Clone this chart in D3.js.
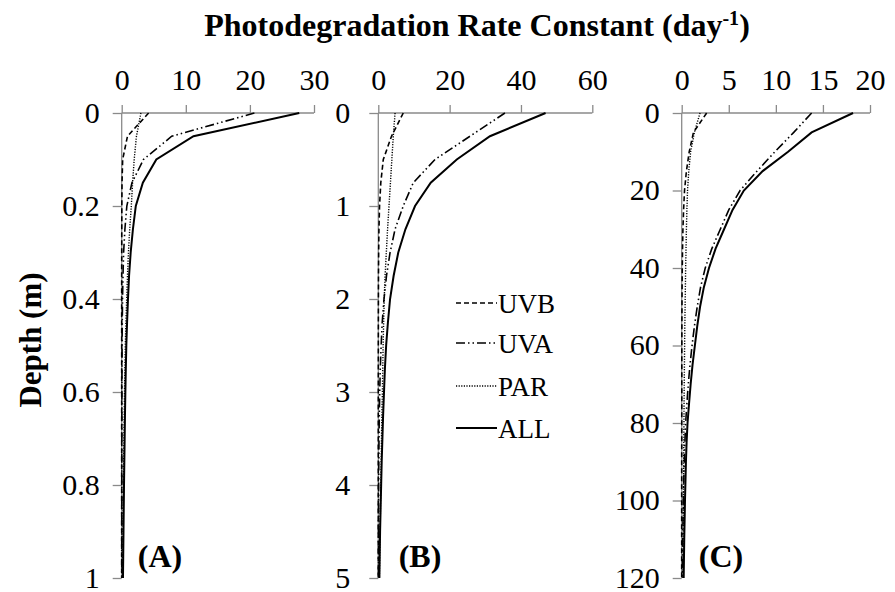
<!DOCTYPE html>
<html>
<head>
<meta charset="utf-8">
<script src="https://cdn.jsdelivr.net/npm/d3@7"></script>
<style>
  html, body { margin: 0; padding: 0; background: #fff; }
  svg { display: block; }
  text { font-family: "Liberation Serif", "Times New Roman", serif; fill: #000; }
</style>
</head>
<body>
<svg id="chart" width="895" height="592"></svg>
<script>
// ---------------- DATA ----------------
const seriesNames = ["UVB", "UVA", "PAR", "ALL"];
const panelLabels = ["(A)", "(B)", "(C)"];

// Panel A: depth 0..1 m
const depthA = [0,0.05,0.1,0.15,0.2,0.25,0.3,0.35,0.4,0.45,0.5,0.55,0.6,0.65,0.7,0.75,0.8,0.85,0.9,0.95,1.0];
const uvbA = [4.2,0.9,0.15,0.05,0.02,0.01,0.005,0,0,0,0,0,0,0,0,0,0,0,0,0,0];
const uvaA = [20.7,7.8,3.4,1.6,0.8,0.5,0.3,0.2,0.13,0.09,0.06,0.04,0.03,0.02,0.015,0.01,0.01,0.01,0.005,0.005,0.005];
const parA = [3.0,2.3,1.95,1.7,1.5,1.25,1.05,0.9,0.78,0.66,0.56,0.5,0.44,0.39,0.35,0.31,0.27,0.24,0.21,0.18,0.15];
const allA = [27.7,11.2,5.4,3.3,2.2,1.75,1.4,1.15,0.98,0.84,0.72,0.64,0.57,0.51,0.46,0.41,0.36,0.32,0.28,0.24,0.2];

// Panel B: depth 0..5 m
const depthB = [0,0.25,0.5,0.75,1,1.25,1.5,1.75,2,2.25,2.5,2.75,3,3.25,3.5,3.75,4,4.25,4.5,4.75,5];
const uvbB = [7.0,3.7,1.4,0.7,0.35,0.18,0.1,0.05,0.03,0.02,0.01,0.01,0,0,0,0,0,0,0,0,0];
const uvaB = [35.5,25.7,15.9,9.8,7.0,4.7,3.3,2.3,1.6,1.1,0.8,0.55,0.4,0.28,0.2,0.14,0.1,0.07,0.05,0.04,0.03];
const parB = [4.7,4.2,3.8,3.4,3.0,2.6,2.25,1.9,1.65,1.5,1.35,1.25,1.15,1.0,0.9,0.8,0.7,0.6,0.5,0.4,0.3];
const allB = [46.9,31.3,22.0,14.7,10.3,7.6,5.6,4.3,3.3,2.7,2.2,1.85,1.6,1.35,1.15,0.95,0.8,0.65,0.5,0.4,0.3];

// Panel C: depth 0..120 m
const depthC = [0,5,10,15,20,25,30,35,40,45,50,55,60,65,70,75,80,85,90,95,100,105,110,115,120];
const uvbC = [2.65,1.25,0.8,0.5,0.3,0.2,0.13,0.09,0.06,0.04,0.03,0.02,0.015,0.01,0.01,0.01,0.005,0.005,0,0,0,0,0,0,0];
const uvaC = [13.8,11.9,9.9,8.0,6.2,5.0,4.1,3.2,2.5,2.0,1.65,1.35,1.1,0.88,0.7,0.55,0.42,0.34,0.27,0.22,0.17,0.14,0.11,0.09,0.07];
const parC = [1.95,1.35,0.95,0.75,0.62,0.55,0.5,0.46,0.42,0.39,0.36,0.33,0.31,0.29,0.27,0.25,0.24,0.22,0.21,0.2,0.18,0.17,0.16,0.15,0.13];
const allC = [18.2,13.8,11.3,8.6,6.6,5.4,4.5,3.6,2.9,2.35,1.95,1.65,1.4,1.15,0.95,0.78,0.62,0.52,0.45,0.4,0.35,0.31,0.27,0.24,0.21];

const xTicksA = [0,10,20,30], yTicksA = [0,0.2,0.4,0.6,0.8,1];
const xTicksB = [0,20,40,60], yTicksB = [0,1,2,3,4,5];
const xTicksC = [0,5,10,15,20], yTicksC = [0,20,40,60,80,100,120];

// ---------------- LAYOUT / STYLE ----------------
const plotTop = 113, plotBottom = 578;
const panels = [
  { depth: depthA, series: [uvbA, uvaA, parA, allA], xDomain: [0,30], yDomain: [0,1], xRange: [121.7, 314], xTicks: xTicksA, yTicks: yTicksA, labelX: 160, yPad: 13 },
  { depth: depthB, series: [uvbB, uvaB, parB, allB], xDomain: [0,60], yDomain: [0,5], xRange: [378.3, 592.3], xTicks: xTicksB, yTicks: yTicksB, labelX: 420, yPad: 19 },
  { depth: depthC, series: [uvbC, uvaC, parC, allC], xDomain: [0,20], yDomain: [0,120], xRange: [681.7, 870], xTicks: xTicksC, yTicks: yTicksC, labelX: 721, yPad: 13 }
];
const dashes = ["5,3", "9,3,1.5,3,1.5,3", "1.2,1.4", null];
const widths = [1.6, 1.6, 1.4, 2];
const axisColor = "#8a8a8a";
const fontStack = '"Liberation Serif", "Times New Roman", serif';

const svg = d3.select("#chart");

panels.forEach((p, i) => {
  const x = d3.scaleLinear().domain(p.xDomain).range(p.xRange);
  const y = d3.scaleLinear().domain(p.yDomain).range([plotTop, plotBottom]);
  const g = svg.append("g");

  const xAxis = d3.axisTop(x).tickValues(p.xTicks).tickSize(8).tickPadding(15).tickFormat(d3.format("d"));
  const yAxis = d3.axisLeft(y).tickValues(p.yTicks).tickSize(9).tickPadding(p.yPad).tickFormat(d => String(d));

  const gx = g.append("g").attr("transform", `translate(0,${plotTop})`).call(xAxis);
  const gy = g.append("g").attr("transform", `translate(${p.xRange[0]},0)`).call(yAxis);
  [gx, gy].forEach(a => {
    a.select(".domain").attr("stroke", axisColor).attr("stroke-width", 1.3);
    a.selectAll(".tick line").attr("stroke", axisColor).attr("stroke-width", 1.3);
    a.selectAll(".tick text").style("font-family", fontStack)
      .style("font-size", "30px").attr("fill", "#000");
  });
  gy.selectAll(".tick text").attr("dy", "0.3em");
  gx.select(".domain").attr("d", `M${p.xRange[0]},0H${p.xRange[1]}`);
  gy.select(".domain").attr("d", `M0,${plotTop}V${plotBottom}`);

  p.series.forEach((vals, k) => {
    const line = d3.line().x(d => x(d)).y((d, j) => y(p.depth[j]));
    g.append("path").datum(vals)
      .attr("d", line)
      .attr("fill", "none")
      .attr("stroke", "#000")
      .attr("stroke-width", widths[k])
      .attr("stroke-dasharray", dashes[k]);
  });

  g.append("text").attr("x", p.labelX).attr("y", 567).attr("text-anchor", "middle")
    .style("font-size", "32px").style("font-weight", "bold").text(panelLabels[i]);
});

// Title
const title = svg.append("text").attr("x", 477).attr("y", 36).attr("text-anchor", "middle")
  .style("font-size", "32px").style("font-weight", "bold");
title.append("tspan").text("Photodegradation Rate Constant (day");
title.append("tspan").attr("dy", -11).style("font-size", "20px").text("-1");
title.append("tspan").attr("dy", 11).text(")");

// Y label
svg.append("text").attr("transform", "translate(41,340) rotate(-90)").attr("text-anchor", "middle")
  .style("font-size", "31px").style("font-weight", "bold").text("Depth (m)");

// Legend
const legY = [303, 343, 386, 428];
seriesNames.forEach((name, k) => {
  svg.append("line").attr("x1", 456).attr("x2", 497).attr("y1", legY[k]).attr("y2", legY[k])
    .attr("stroke", "#000").attr("stroke-width", widths[k]).attr("stroke-dasharray", dashes[k]);
  svg.append("text").attr("x", 498).attr("y", legY[k] + 10).style("font-size", "27px").text(name);
});
</script>
</body>
</html>
